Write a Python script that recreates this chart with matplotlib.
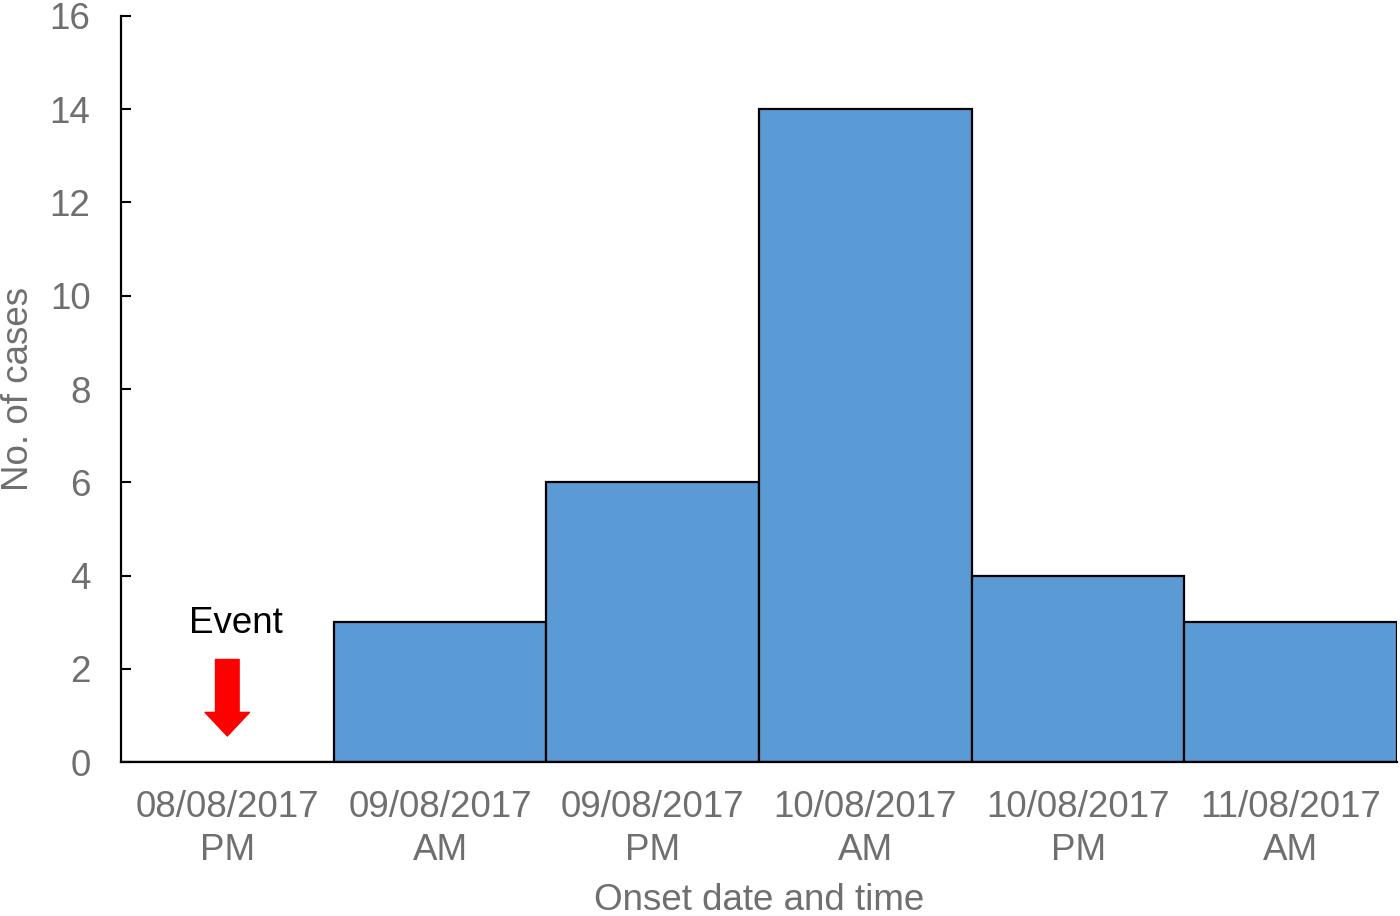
import matplotlib
matplotlib.use("Agg")
import matplotlib.pyplot as plt
from matplotlib.patches import FancyArrowPatch

# data
periods = ["08/08/2017\nPM", "09/08/2017\nAM", "09/08/2017\nPM",
           "10/08/2017\nAM", "10/08/2017\nPM", "11/08/2017\nAM"]
cases = [0, 3, 6, 14, 4, 3]
y_ticks = [0, 2, 4, 6, 8, 10, 12, 14, 16]

event_idx = 0
event_arrow_top = 2.2
event_arrow_tip = 0.56

plt.rcParams['font.family'] = ['Liberation Sans', 'DejaVu Sans']
grey = '#6f6f6f'
fs = 26.5

fig = plt.figure(figsize=(14, 9.16), dpi=100)
ax = fig.add_axes([0.0864, 0.168, 0.9116, 0.8146])

x = list(range(len(periods)))
ax.bar(x, cases, width=1.0, color='#5b9bd5', edgecolor='black', linewidth=1.6)

ax.set_xlim(-0.5, len(periods) - 0.5)
ax.set_ylim(0, 16)
ax.set_yticks(y_ticks)
ax.set_xticks(x)
ax.set_xticklabels(periods, fontsize=fs, color=grey, linespacing=1.3)
ax.tick_params(axis='y', direction='in', length=7, width=1.5, pad=22,
               labelsize=fs, labelcolor=grey)
ax.tick_params(axis='x', length=0, pad=20)

for side in ['top', 'right']:
    ax.spines[side].set_visible(False)
for side in ['left', 'bottom']:
    ax.spines[side].set_linewidth(1.6)

ax.set_ylabel("No. of cases", fontsize=fs, color=grey, labelpad=10)
ax.set_xlabel("Onset date and time", fontsize=fs, color=grey, labelpad=11)

# event marker
ax.text(event_idx + 0.04, 2.97, "Event", fontsize=fs, color='black',
        ha='center', va='center')
arrow = FancyArrowPatch((event_idx, event_arrow_top), (event_idx, event_arrow_tip),
                        arrowstyle='simple,head_length=17,head_width=32,tail_width=17',
                        mutation_scale=1, color='red', shrinkA=0, shrinkB=0)
ax.add_patch(arrow)

fig.savefig("out.png", dpi=100)
